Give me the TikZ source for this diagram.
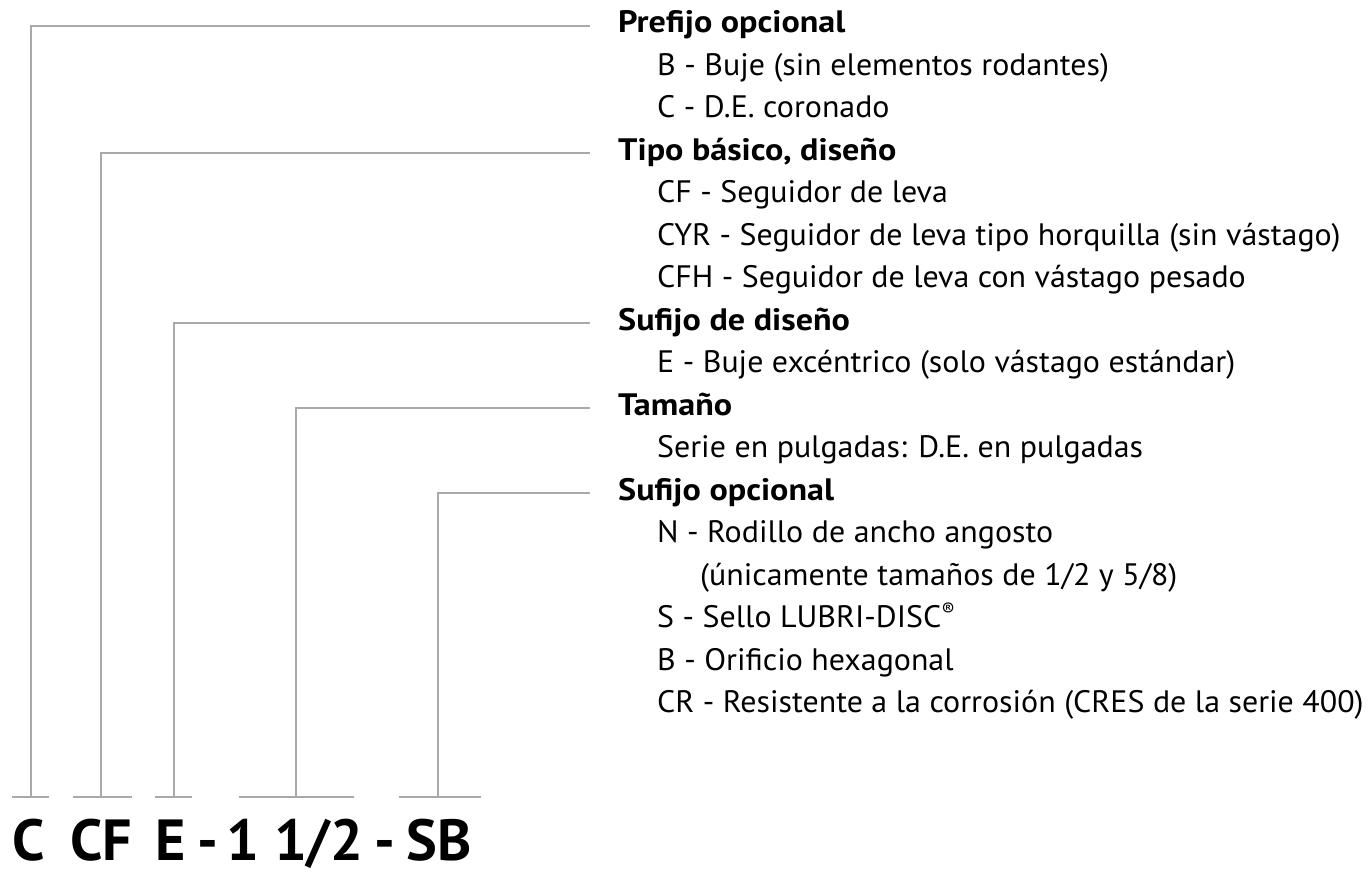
\documentclass[tikz,border=0pt]{standalone}
\usepackage{fontspec}
\setmainfont{PT Sans}[FakeStretch=1.03]
\newfontfamily\headfont{PT Sans}[FakeStretch=1.10]
\newfontfamily\codefont{PT Sans}
\definecolor{linegray}{RGB}{167,169,172}
\begin{document}
\begin{tikzpicture}[x=1pt,y=-1pt,
  conn/.style={draw=linegray, line width=2pt},
  head/.style={anchor=base west, inner sep=0pt, font=\headfont\fontsize{31}{36}\selectfont\bfseries},
  item/.style={anchor=base west, inner sep=0pt, font=\fontsize{31}{36}\selectfont},
  code/.style={anchor=base, inner sep=0pt, font=\codefont\fontsize{58}{60}\selectfont\bfseries}]
\useasboundingbox (0,0) rectangle (1370,875);
% right-hand texts
\node[head] (h1) at (618,32.5) {Prefijo opcional};
\node[item] (i11) at (657,75) {B - Buje (sin elementos rodantes)};
\node[item] (i12) at (657,117.5) {C - D.E. coronado};
\node[head] (h2) at (618,160) {Tipo básico, diseño};
\node[item] (i21) at (657,202.5) {CF - Seguidor de leva};
\node[item] (i22) at (657,245) {CYR - Seguidor de leva tipo horquilla (sin vástago)};
\node[item] (i23) at (657,287.5) {CFH - Seguidor de leva con vástago pesado};
\node[head] (h3) at (618,330) {Sufijo de diseño};
\node[item] (i31) at (657,372.5) {E - Buje excéntrico (solo vástago estándar)};
\node[head] (h4) at (618,415) {Tamaño};
\node[item] (i41) at (657,457.5) {Serie en pulgadas: D.E. en pulgadas};
\node[head] (h5) at (618,500) {Sufijo opcional};
\node[item] (i51) at (657,542.5) {N - Rodillo de ancho angosto};
\node[item] (i52) at (700,585) {(únicamente tamaños de 1/2 y 5/8)};
\node[item] (i53) at (657,627.5) {S - Sello LUBRI-DISC\raisebox{0.36em}{\fontsize{19}{19}\selectfont ®}};
\node[item] (i54) at (657,670) {B - Orificio hexagonal};
\node[item] (i55) at (657,712.5) {CR - Resistente a la corrosión (CRES de la serie 400)};
% code at bottom
\node[code] (c1) at (28.5,860) {C};
\node[code] (c2) at (101,860) {CF};
\node[code] (c3) at (171,860) {E};
\node[code] (d1) at (208,860) {-};
\node[code] (c4) at (295,860) {1 1/2};
\node[code] (d2) at (385,860) {-};
\node[code] (c5) at (439,860) {SB};
% connector coordinates
\coordinate (a1) at (12,797);  \coordinate (b1) at (49,797);  \coordinate (m1) at (31,797);  \coordinate (e1) at (590,26);
\coordinate (a2) at (73,797);  \coordinate (b2) at (132,797); \coordinate (m2) at (101,797); \coordinate (e2) at (590,153);
\coordinate (a3) at (155,797); \coordinate (b3) at (192,797); \coordinate (m3) at (174,797); \coordinate (e3) at (590,323);
\coordinate (a4) at (239,797); \coordinate (b4) at (354,797); \coordinate (m4) at (296,797); \coordinate (e4) at (590,408);
\coordinate (a5) at (399,797); \coordinate (b5) at (481,797); \coordinate (m5) at (438,797); \coordinate (e5) at (590,493);
\foreach \k in {1,...,5}{
  \draw[conn] (a\k) -- (b\k);
  \draw[conn] (m\k) |- (e\k);
}
\end{tikzpicture}
\end{document}
